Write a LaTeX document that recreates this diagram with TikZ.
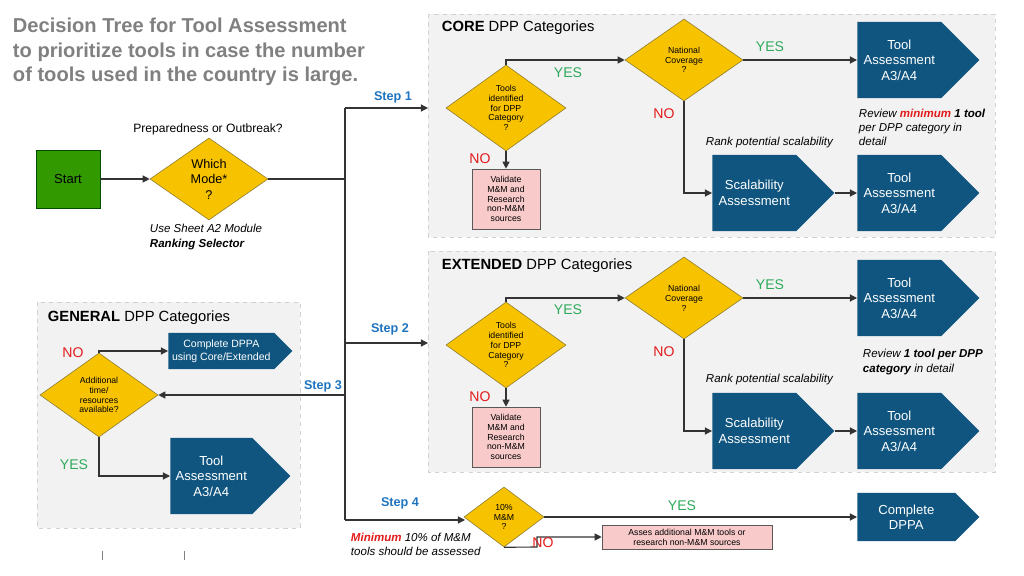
\documentclass[tikz,border=0pt]{standalone}
\usepackage{fontspec}
\setmainfont{Liberation Sans}
\usetikzlibrary{shapes.geometric,shapes.symbols,arrows.meta}
\definecolor{toolblue}{HTML}{0F5580}
\definecolor{decyel}{HTML}{F7C200}
\definecolor{decedge}{HTML}{8A7A30}
\definecolor{pinkbox}{HTML}{F8CACA}
\definecolor{yesgreen}{HTML}{2EAA5C}
\definecolor{nored}{HTML}{E21B1B}
\definecolor{stepblue}{HTML}{1F74BF}
\definecolor{panelgray}{HTML}{F2F2F2}
\tikzset{panel/.style={draw=gray!35, dashed, fill=panelgray}}
\tikzset{decision/.style={diamond, draw=decedge, fill=decyel, inner sep=0pt, align=center, font=\fontsize{6.2}{7}\selectfont}}
\tikzset{toolbox/.style={signal, signal to=east, signal pointer angle=90, fill=toolblue, text=white, align=center, inner sep=0pt, anchor=west, font=\fontsize{9.3}{11}\selectfont}}
\tikzset{checkbox/.style={draw=gray!70!black, fill=pinkbox, align=center, inner sep=1pt, font=\fontsize{6.2}{7}\selectfont}}
\tikzset{yes/.style={text=yesgreen, font=\fontsize{10}{12}\selectfont}}
\tikzset{no/.style={text=nored, font=\fontsize{10}{12}\selectfont}}
\tikzset{steplabel/.style={text=stepblue, font=\bfseries\fontsize{9}{11}\selectfont}}
\tikzset{note/.style={anchor=west, align=left, font=\itshape\fontsize{8.2}{10}\selectfont}}
\tikzset{flow/.style={-{Triangle[length=5pt,width=5pt]}, thick, black!80}}
\begin{document}
\begin{tikzpicture}[x=0.025cm, y=-0.025cm]
\useasboundingbox (0,0) rectangle (1024,576);
% title
\node[anchor=north west, align=left, text=gray, font=\bfseries\fontsize{14.3}{17.5}\selectfont] (title) at (8,13)
  {Decision Tree for Tool Assessment\\to prioritize tools in case the number\\of tools used in the country is large.};
% panels
\draw[panel] (428,14) rectangle (995,237);
\draw[panel] (428,251) rectangle (995,472);
\draw[panel] (37,302) rectangle (300,528);
\node[anchor=west, font=\fontsize{10.5}{12}\selectfont] (coretitle) at (437,28) {\textbf{CORE} DPP Categories};
\node[anchor=west, font=\fontsize{10.5}{12}\selectfont] (exttitle) at (437,266) {\textbf{EXTENDED} DPP Categories};
\node[anchor=west, font=\fontsize{10.5}{12}\selectfont] (gentitle) at (43,318) {\textbf{GENERAL} DPP Categories};
% start
\node[draw=green!30!black, fill=green!50!black!80!yellow, minimum width=1.6cm, minimum height=1.45cm, font=\fontsize{9.3}{11}\selectfont] (start) at (68,179) {Start};
\node[decision, minimum width=2.95cm, minimum height=2.05cm, font=\fontsize{9}{11}\selectfont] (mode) at (209,179) {Which\\Mode*\\?};
\node[font=\fontsize{8.6}{10}\selectfont] (prep) at (208,129) {Preparedness or Outbreak?};
\node[note] (sheet) at (145,237) {Use Sheet A2 Module\\\textbf{Ranking Selector}};
\draw[flow] (start) -- (mode);
% trunk
\coordinate (j0) at (345,179);
\coordinate (j1) at (345,108);
\coordinate (j2) at (345,343);
\coordinate (j3) at (345,395);
\coordinate (j4) at (345,520);
\draw[thick, black!80] (mode.east) -- (j0) (j1) -- (j4);
% core
\node[decision, minimum width=3cm, minimum height=2.15cm] (tools1) at (506,108) {Tools\\identified\\for DPP\\Category\\?};
\node[decision, minimum width=2.95cm, minimum height=2.05cm] (nat1) at (684,60) {National\\Coverage\\?};
\node[toolbox, minimum width=3.05cm, minimum height=1.9cm] (ta1) at (857,60) {Tool\\Assessment\\A3/A4};
\node[toolbox, minimum width=3.05cm, minimum height=1.9cm] (scal1) at (712,193) {Scalability\\Assessment};
\node[toolbox, minimum width=3.05cm, minimum height=1.9cm] (tb1) at (857,193) {Tool\\Assessment\\A3/A4};
\node[checkbox, minimum width=1.7cm, minimum height=1.5cm] (val1) at (506,199) {Validate\\M\&M and\\Research\\non-M\&M\\sources};
\node[steplabel] (s1) at (393,97) {Step 1};
\draw[flow] (j1) -- (j1 -| 428,0);
\draw[flow] (tools1.north) |- (nat1.west);
\draw[flow] (tools1.south) -- (val1.north);
\draw[flow] (nat1.east) -- (ta1.west);
\draw[flow] (nat1.south) |- (scal1.west);
\draw[flow] (scal1.east) -- (tb1.west);
\node[yes] (y1a) at (568,73) {YES};
\node[yes] (y1b) at (770,47) {YES};
\node[no] (n1a) at (480,159) {NO};
\node[no] (n1b) at (664,114) {NO};
\node[note] (rank1) at (701,143) {Rank potential scalability};
\node[note] (rev1) at (854,127) {Review \textcolor{nored}{\textbf{minimum}} \textbf{1 tool}\\per DPP category in\\detail};
% extended
\node[decision, minimum width=3cm, minimum height=2.15cm] (tools2) at (506,345) {Tools\\identified\\for DPP\\Category\\?};
\node[decision, minimum width=2.95cm, minimum height=2.05cm] (nat2) at (684,298) {National\\Coverage\\?};
\node[toolbox, minimum width=3.05cm, minimum height=1.9cm] (ta2) at (857,298) {Tool\\Assessment\\A3/A4};
\node[toolbox, minimum width=3.05cm, minimum height=1.9cm] (scal2) at (712,431) {Scalability\\Assessment};
\node[toolbox, minimum width=3.05cm, minimum height=1.9cm] (tb2) at (857,431) {Tool\\Assessment\\A3/A4};
\node[checkbox, minimum width=1.7cm, minimum height=1.5cm] (val2) at (506,437) {Validate\\M\&M and\\Research\\non-M\&M\\sources};
\node[steplabel] (s2) at (390,329) {Step 2};
\draw[flow] (j2) -- (j2 -| 428,0);
\draw[flow] (tools2.north) |- (nat2.west);
\draw[flow] (tools2.south) -- (val2.north);
\draw[flow] (nat2.east) -- (ta2.west);
\draw[flow] (nat2.south) |- (scal2.west);
\draw[flow] (scal2.east) -- (tb2.west);
\node[yes] (y2a) at (568,310) {YES};
\node[yes] (y2b) at (770,285) {YES};
\node[no] (n2a) at (480,397) {NO};
\node[no] (n2b) at (664,352) {NO};
\node[note] (rank2) at (701,380) {Rank potential scalability};
\node[note] (rev2) at (858,362) {Review \textbf{1 tool per DPP}\\\textbf{category} in detail};
% general
\node[decision, minimum width=2.95cm, minimum height=2.1cm] (addl) at (99,395) {Additional\\time/\\resources\\available?};
\node[toolbox, minimum width=3.1cm, minimum height=0.9cm, font=\fontsize{7.5}{9}\selectfont] (cdppa1) at (168,351) {Complete DPPA\\using Core/Extended};
\node[toolbox, minimum width=3cm, minimum height=1.9cm] (ta3) at (170,476) {Tool\\Assessment\\A3/A4};
\node[steplabel] (s3) at (323,386) {Step 3};
\draw[flow] (j3) -- (addl.east);
\draw[flow] (addl.north) |- (cdppa1.west);
\draw[flow] (addl.south) |- (ta3.west);
\node[no] (n3) at (73,353) {NO};
\node[yes] (y3) at (74,465) {YES};
% step 4
\node[decision, minimum width=2cm, minimum height=1.5cm] (ten) at (504,517) {10\%\\M\&M\\?};
\node[toolbox, minimum width=3.05cm, minimum height=1.2cm] (cdppa2) at (857,517) {Complete\\DPPA};
\node[checkbox, minimum width=4.25cm, minimum height=0.6cm] (asses) at (687,537) {Asses additional M\&M tools or\\research non-M\&M sources};
\node[steplabel] (s4) at (400,503) {Step 4};
\draw[flow] (j4) -- (465,520);
\draw[flow] (ten.east) -- (cdppa2.west);
\draw[flow] (ten.south) -- (537,547) |- (asses.west);
\node[yes] (y4) at (682,506) {YES};
\node[no] (n4) at (543,543) {NO};
\node[note] (min4) at (346,544) {\textcolor{nored}{\textbf{Minimum}} 10\% of M\&M\\tools should be assessed};
% ticks
\draw[gray] (102,551) -- (102,560) (184,551) -- (184,560);
\end{tikzpicture}
\end{document}
